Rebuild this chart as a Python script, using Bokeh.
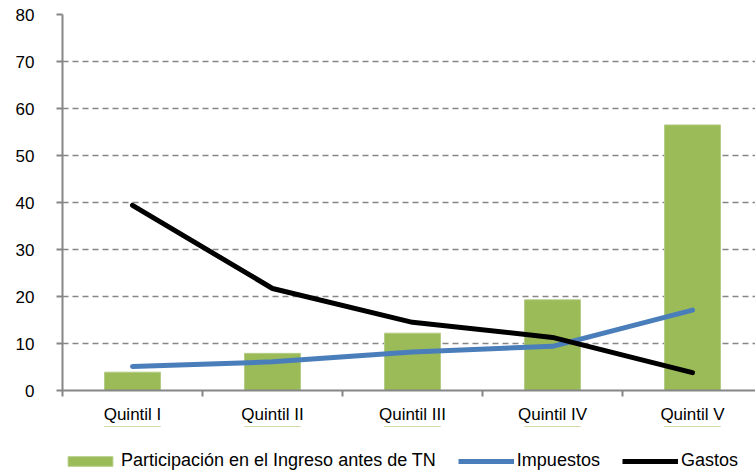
from bokeh.plotting import figure
from bokeh.layouts import column
from bokeh.models import ColumnDataSource, FixedTicker, Range1d, Legend, LegendItem
from bokeh.embed import file_html
from bokeh.resources import INLINE

categories = ["Quintil I", "Quintil II", "Quintil III", "Quintil IV", "Quintil V"]
participacion = [3.9, 7.9, 12.2, 19.3, 56.5]
impuestos = [5.1, 6.1, 8.2, 9.4, 17.1]
gastos = [39.4, 21.7, 14.5, 11.3, 3.8]
y_ticks = [0, 10, 20, 30, 40, 50, 60, 70, 80]
series_names = ["Participación en el Ingreso antes de TN", "Impuestos", "Gastos"]

GREEN, BLUE, BLACK = "#9bbb59", "#4a7ebb", "#000000"

xs = list(range(1, len(categories) + 1))
src = ColumnDataSource(dict(x=xs, part=participacion, imp=impuestos, gas=gastos))

p = figure(width=755, height=426, output_backend="svg", toolbar_location=None,
           x_range=Range1d(0.5, 5.45), y_range=Range1d(0, 80),
           min_border_left=62, min_border_right=0, min_border_top=14, min_border_bottom=36)
p.outline_line_color = None
p.background_fill_color = "white"

p.vbar(x="x", top="part", width=0.4, bottom=0, source=src,
       fill_color=GREEN, line_color="#b5cd85", line_width=1)
p.line(x="x", y="imp", source=src, line_color=BLUE, line_width=5, line_cap="round")
p.line(x="x", y="gas", source=src, line_color=BLACK, line_width=5, line_cap="round")

# x axis
p.xaxis.ticker = FixedTicker(ticks=xs, minor_ticks=[i - 0.5 for i in xs])
p.xaxis.major_label_overrides = {x: c for x, c in zip(xs, categories)}
p.xaxis.major_tick_out = 0
p.xaxis.major_tick_in = 0
p.xaxis.minor_tick_out = 6
p.xaxis.minor_tick_in = 0
p.xaxis.minor_tick_line_color = "#868686"
p.xaxis.minor_tick_line_width = 2
p.xaxis.axis_line_color = "#868686"
p.xaxis.axis_line_width = 2
p.xaxis.major_label_text_font = "Liberation Sans"
p.xaxis.major_label_text_font_size = "17px"
p.xaxis.major_label_text_color = "#000000"
p.xaxis.major_label_standoff = 8

# y axis
p.yaxis.ticker = FixedTicker(ticks=y_ticks, minor_ticks=[])
p.yaxis.major_tick_out = 6
p.yaxis.major_tick_in = 0
p.yaxis.major_tick_line_color = "#868686"
p.yaxis.major_tick_line_width = 2
p.yaxis.axis_line_color = "#868686"
p.yaxis.axis_line_width = 2
p.yaxis.major_label_text_font = "Liberation Sans"
p.yaxis.major_label_text_font_size = "17px"
p.yaxis.major_label_text_color = "#000000"
p.yaxis.major_label_standoff = 22

p.xgrid.grid_line_color = None
p.ygrid.grid_line_color = "#868686"
p.ygrid.grid_line_dash = "6 4"
p.ygrid.grid_line_width = 1.5

# legend strip below the chart (its glyphs fall outside this strip's view)
p2 = figure(width=755, height=48, output_backend="svg", toolbar_location=None,
            x_range=Range1d(0.5, 5.45), y_range=Range1d(-2, -1),
            x_axis_type=None, y_axis_type=None,
            min_border_left=0, min_border_right=0, min_border_top=0, min_border_bottom=0)
p2.outline_line_color = None
p2.xgrid.grid_line_color = None
p2.ygrid.grid_line_color = None
lb = p2.vbar(x="x", top="part", width=0.4, bottom=0, source=src,
             fill_color=GREEN, line_color="#b5cd85")
lb1 = p2.line(x="x", y="imp", source=src, line_color=BLUE, line_width=5)
lb2 = p2.line(x="x", y="gas", source=src, line_color=BLACK, line_width=5)

legend = Legend(items=[
    LegendItem(label=series_names[0], renderers=[lb]),
    LegendItem(label=series_names[1], renderers=[lb1]),
    LegendItem(label=series_names[2], renderers=[lb2]),
], orientation="horizontal", location=(0, 3))
legend.glyph_width = 56
legend.glyph_height = 12
legend.label_standoff = 3
legend.spacing = 22
legend.padding = 0
legend.margin = 0
legend.border_line_color = None
legend.background_fill_alpha = 0
legend.label_text_font = "Liberation Sans"
legend.label_text_font_size = "18px"
legend.label_text_color = "#000000"
p2.add_layout(legend, "center")

layout = column(p, p2, spacing=0)
open("out.html", "w").write(file_html(layout, INLINE))
